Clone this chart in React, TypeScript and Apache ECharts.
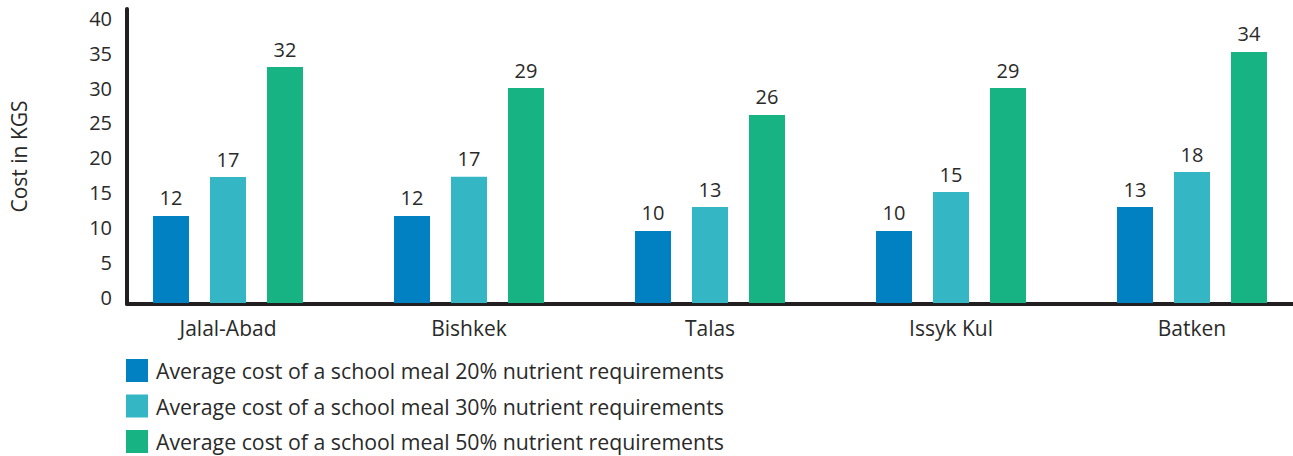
import React, { useEffect, useRef } from "react";
import * as echarts from "echarts";

const categories = ["Jalal-Abad", "Bishkek", "Talas", "Issyk Kul", "Batken"];
const seriesNames = [
  "Average cost of a school meal 20% nutrient requirements",
  "Average cost of a school meal 30% nutrient requirements",
  "Average cost of a school meal 50% nutrient requirements",
];
const meal20 = [11.84, 11.84, 9.8, 9.8, 13.06];
const meal30 = [17.14, 17.18, 13.06, 15.1, 17.82];
const meal50 = [32.1, 29.25, 25.58, 29.25, 34.15];
const yTicks = [0, 5, 10, 15, 20, 25, 30, 35, 40];
const colors = ["#0181c2", "#35b6c5", "#17b383"];

const FONT = "'Open Sans', 'Noto Sans', sans-serif";
const TEXT = "#2a2a2a";
const CHART_W = 1330;

export default function App() {
  const ref = useRef<HTMLDivElement>(null);
  useEffect(() => {
    if (!ref.current) return;
    const chart = echarts.init(ref.current, undefined, { renderer: "svg" });
    const data = [meal20, meal30, meal50];
    chart.setOption({
      animation: false,
      textStyle: { fontFamily: FONT },
      grid: [
        { left: 107.5, width: 1205, top: 9, bottom: 153, containLabel: false },
        { left: 125, right: CHART_W - 1293, top: 9, bottom: 152, containLabel: false },
      ],
      legend: {
        orient: "vertical",
        left: 126,
        top: 359,
        padding: 0,
        itemWidth: 22,
        itemHeight: 23,
        itemGap: 12.5,
        icon: "rect",
        data: seriesNames,
        textStyle: {
          fontFamily: FONT,
          fontSize: 21.3,
          color: TEXT,
          lineHeight: 23,
          padding: [0, 0, 0, 3],
        },
      },
      xAxis: [
        {
          type: "category",
          gridIndex: 0,
          data: categories,
          axisLine: { show: false },
          axisTick: { show: false },
          axisLabel: { fontSize: 21, color: TEXT, fontFamily: FONT, margin: 14 },
        },
        {
          type: "value",
          gridIndex: 1,
          min: 0,
          max: 1,
          axisLine: { show: true, onZero: false, lineStyle: { color: "#231f20", width: 4 } },
          axisTick: { show: false },
          axisLabel: { show: false },
          splitLine: { show: false },
        },
      ],
      yAxis: [
        {
          type: "value",
          gridIndex: 0,
          min: 0,
          max: 40,
          axisLine: { show: false },
          axisTick: { show: false },
          axisLabel: { show: false },
          splitLine: { show: false },
        },
        {
          type: "value",
          gridIndex: 1,
          min: -0.96,
          max: 41.33,
          name: "Cost in KGS",
          nameLocation: "middle",
          nameGap: 98,
          nameTextStyle: { fontSize: 21, color: TEXT, fontFamily: FONT },
          axisLine: { show: true, onZero: false, lineStyle: { color: "#231f20", width: 4 } },
          axisTick: { show: false },
          splitLine: { show: false },
          axisLabel: {
            customValues: yTicks,
            fontSize: 20,
            color: TEXT,
            fontFamily: FONT,
            margin: 15,
          },
        },
      ],
      series: seriesNames.map((name, i) => ({
        name,
        type: "bar",
        xAxisIndex: 0,
        yAxisIndex: 0,
        data: data[i],
        barWidth: 36,
        barGap: "58.3%",
        itemStyle: { color: colors[i] },
        label: {
          show: true,
          position: "top",
          distance: 8,
          fontSize: 20,
          color: TEXT,
          fontFamily: FONT,
          formatter: (p: any) => Math.round(p.value).toString(),
        },
      })),
    });
    return () => chart.dispose();
  }, []);
  return (
    <div
      style={{
        position: "fixed",
        left: 0,
        top: 0,
        width: 1293,
        height: 456,
        overflow: "hidden",
        background: "#fff",
      }}
    >
      <div ref={ref} style={{ width: CHART_W, height: 456 }} />
    </div>
  );
}
